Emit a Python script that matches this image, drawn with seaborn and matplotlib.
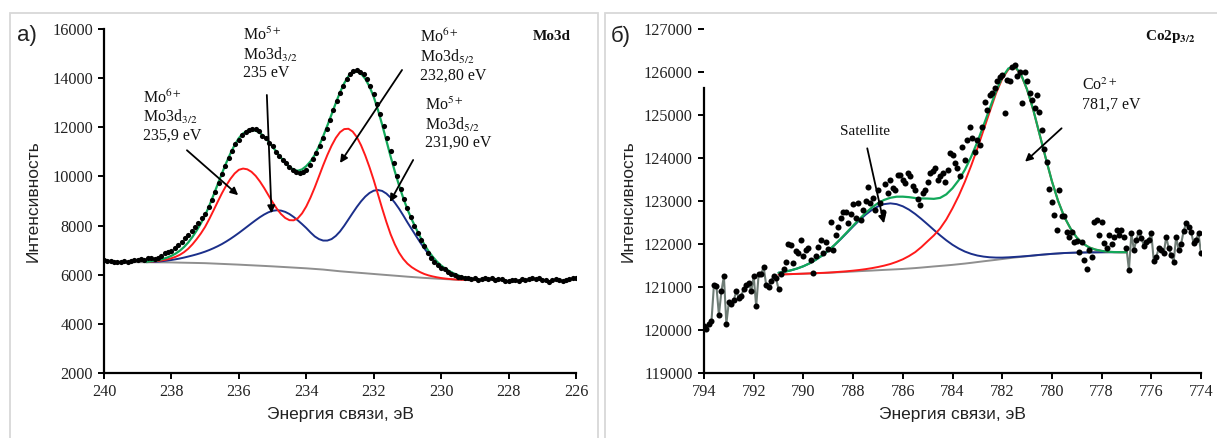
import numpy as np
import matplotlib
matplotlib.use("Agg")
import matplotlib.pyplot as plt
from matplotlib.patches import Rectangle
import seaborn as sns

# ---------------- Mo3d spectrum (panel a) ----------------
# measured counts, 240.0 -> 226.0 eV in 0.1 eV steps
mo_counts = [
    6600, 6560, 6540, 6520, 6500, 6510, 6540, 6520, 6560, 6580,
    6600, 6620, 6600, 6660, 6690, 6650, 6700, 6760, 6870, 6930,
    6980, 7080, 7200, 7330, 7480, 7620, 7780, 7950, 8100, 8290,
    8480, 8750, 9050, 9380, 9720, 10080, 10420, 10750, 11050, 11300,
    11500, 11680, 11800, 11880, 11950, 11930, 11860, 11650, 11560, 11350,
    11220, 11000, 10850, 10660, 10530, 10380, 10250, 10180, 10130, 10170,
    10280, 10450, 10700, 10950, 11250, 11550, 11950, 12300, 12700, 13050,
    13400, 13700, 13950, 14150, 14300, 14320, 14250, 14180, 13950, 13700,
    13350, 12950, 12550, 12050, 11550, 11050, 10550, 10000, 9500, 9100,
    8700, 8350, 8000, 7700, 7400, 7150, 6900, 6700, 6520, 6400,
    6280, 6220, 6100, 6020, 5980, 5900, 5920, 5850, 5880, 5820,
    5860, 5800, 5830, 5850, 5810, 5860, 5790, 5840, 5830, 5760,
    5740, 5800, 5770, 5760, 5820, 5800, 5840, 5870, 5830, 5850,
    5800, 5780, 5720, 5790, 5820, 5800, 5760, 5790, 5820, 5850,
    5880,
]
assert len(mo_counts) == 141
mo_energy = np.round(240.0 - 0.1 * np.arange(len(mo_counts)), 1)

# background, 240.0 -> 229.0 eV, 0.25 eV steps
mo_bg = [
    6520, 6518, 6515, 6512, 6510, 6508, 6505, 6503, 6500, 6492,
    6485, 6478, 6470, 6455, 6440, 6425, 6410, 6392, 6375, 6358,
    6340, 6320, 6300, 6280, 6260, 6235, 6210, 6175, 6140, 6112,
    6085, 6058, 6030, 6002, 5975, 5948, 5920, 5895, 5870, 5850,
    5830, 5812, 5795, 5788, 5780,
]
mo_bg_e = np.round(240.0 - 0.25 * np.arange(len(mo_bg)), 2)

# fitted components, 238.75 -> 229.0 eV, 0.125 eV steps
mo6_fit = [
    6520, 6532, 6545, 6564, 6590, 6624, 6670, 6729, 6810, 6919,
    7060, 7239, 7450, 7683, 7950, 8273, 8620, 8976, 9320, 9631,
    9900, 10120, 10270, 10320, 10290, 10187, 10020, 9794, 9530, 9239,
    8950, 8689, 8470, 8310, 8220, 8214, 8300, 8497, 8780, 9139,
    9550, 9998, 10450, 10872, 11250, 11566, 11800, 11926, 11940, 11826,
    11600, 11266, 10850, 10375, 9850, 9278, 8700, 8150, 7650, 7238,
    6900, 6644, 6450, 6308, 6200, 6106, 6030, 5973, 5930, 5894,
    5865, 5843, 5825, 5811, 5800, 5794, 5789, 5784, 5780,
]
mo5_fit = [
    6510, 6518, 6525, 6538, 6555, 6576, 6600, 6628, 6660, 6698,
    6740, 6783, 6830, 6882, 6940, 7006, 7080, 7161, 7250, 7351,
    7460, 7577, 7700, 7829, 7960, 8092, 8220, 8342, 8450, 8539,
    8600, 8623, 8610, 8557, 8470, 8351, 8210, 8060, 7900, 7721,
    7560, 7450, 7390, 7390, 7450, 7578, 7760, 7993, 8250, 8509,
    8760, 8987, 9180, 9327, 9420, 9447, 9410, 9303, 9140, 8933,
    8690, 8416, 8130, 7858, 7590, 7323, 7070, 6847, 6650, 6482,
    6340, 6226, 6130, 6044, 5970, 5909, 5860, 5830, 5800,
]
mo_env = [
    6522, 6544, 6565, 6598, 6642, 6698, 6770, 6861, 6978, 7129,
    7315, 7540, 7802, 8091, 8420, 8817, 9245, 9689, 10130, 10550,
    10935, 11279, 11560, 11748, 11858, 11895, 11865, 11770, 11622, 11429,
    11210, 10982, 10760, 10557, 10390, 10275, 10230, 10287, 10420, 10612,
    10875, 11226, 11630, 12070, 12525, 12986, 13420, 13793, 14078, 14237,
    14275, 14181, 13972, 13658, 13240, 12709, 12108, 11465, 10815, 10209,
    9642, 9126, 8660, 8258, 7895, 7547, 7230, 6960, 6730, 6536,
    6375, 6248, 6143, 6051, 5975, 5911, 5861, 5830, 5800,
]
assert len(mo6_fit) == len(mo5_fit) == len(mo_env) == 79
mo_fit_e = np.round(238.75 - 0.125 * np.arange(len(mo6_fit)), 3)

# ---------------- Co2p3/2 spectrum (panel b) ----------------
# measured counts, 794.0 -> 774.0 eV in 0.1 eV steps
co_counts = [
    120100, 120020, 120150, 120200, 121050, 121020, 120350, 120900, 121250, 120150,
    120650, 120600, 120700, 120900, 120750, 120800, 120950, 121050, 121100, 120900,
    121250, 120550, 121300, 121300, 121470, 121050, 121000, 121150, 121250, 121200,
    120950, 121300, 121420, 121590, 122010, 121980, 121550, 121830, 121800, 122090,
    121710, 121860, 121900, 121630, 121320, 121720, 121940, 122090, 121780, 122050,
    121880, 122520, 121860, 122210, 122400, 122600, 122750, 122750, 122480, 122700,
    122930, 122600, 122950, 122560, 122790, 123000, 123330, 122950, 123060, 122800,
    123260, 122950, 122750, 123400, 123180, 123480, 123300, 123260, 123600, 123610,
    123490, 123410, 123640, 123570, 123350, 123260, 123050, 122910, 123180, 123260,
    123450, 123640, 123700, 123760, 123490, 123570, 123650, 123450, 123720, 124110,
    124070, 123880, 123760, 123570, 124260, 123950, 124420, 124730, 124460, 124150,
    124420, 124300, 124730, 125310, 125120, 125470, 125500, 125620, 125780, 125890,
    125930, 125040, 125810, 125780, 126120, 126160, 125900, 126010, 125270, 126000,
    125780, 125500, 125350, 125160, 125470, 125080, 124650, 124200, 123910, 123290,
    122980, 122680, 122330, 123260, 122640, 122640, 122290, 122170, 122290, 122050,
    122060, 121820, 122050, 121630, 121430, 121860, 121700, 122520, 122560, 122210,
    122520, 122020, 121900, 122210, 122000, 122170, 122330, 122210, 122320, 122170,
    121900, 121400, 122250, 121860, 122100, 122290, 122150, 121950, 122050, 122100,
    122250, 121600, 121700, 121900, 121850, 121780, 122170, 121900, 121750, 121590,
    122170, 121860, 122000, 122300, 122480, 122400, 122290, 122020, 122100, 122250,
    121780,
]
assert len(co_counts) == 201
co_energy = np.round(794.0 - 0.1 * np.arange(len(co_counts)), 1)

# fitted curves, 791.0 -> 777.0 eV, 0.25 eV steps
co_bg = [
    121290, 121295, 121300, 121305, 121310, 121315, 121320, 121325, 121330, 121338,
    121345, 121352, 121360, 121368, 121375, 121382, 121390, 121398, 121405, 121412,
    121420, 121430, 121440, 121452, 121465, 121478, 121490, 121502, 121515, 121530,
    121545, 121562, 121580, 121598, 121615, 121632, 121650, 121668, 121685, 121700,
    121715, 121730, 121745, 121758, 121770, 121780, 121790, 121795, 121800, 121802,
    121805, 121806, 121808, 121809, 121810, 121810, 121810,
]
co_main = [
    121290, 121295, 121300, 121305, 121310, 121316, 121322, 121328, 121335, 121344,
    121355, 121366, 121380, 121396, 121415, 121438, 121465, 121497, 121535, 121585,
    121644, 121720, 121811, 121930, 122066, 122200, 122360, 122570, 122830, 123120,
    123450, 123820, 124220, 124650, 125080, 125500, 125840, 126060, 126120, 125950,
    125590, 125120, 124560, 124000, 123460, 123000, 122630, 122360, 122150, 122010,
    121920, 121870, 121840, 121820, 121812, 121810, 121810,
]
co_sat = [
    121331, 121356, 121388, 121430, 121483, 121550, 121632, 121729, 121842, 121972,
    122111, 122258, 122407, 122550, 122680, 122790, 122874, 122927, 122945, 122927,
    122877, 122799, 122698, 122581, 122456, 122328, 122202, 122086, 121982, 121895,
    121824, 121771, 121732, 121707, 121691, 121684, 121684, 121690, 121699, 121709,
    121720, 121733, 121747, 121759, 121771, 121780, 121790, 121795, 121800, 121802,
    121805, 121806, 121808, 121809, 121810, 121810, 121810,
]
co_env = [
    121331, 121356, 121388, 121430, 121483, 121551, 121634, 121732, 121847, 121978,
    122121, 122272, 122427, 122578, 122720, 122846, 122949, 123026, 123075, 123100,
    123101, 123089, 123069, 123059, 123057, 123050, 123072, 123154, 123297, 123485,
    123729, 124029, 124372, 124759, 125156, 125552, 125874, 126082, 126134, 125959,
    125595, 125123, 124562, 124001, 123461, 123000, 122630, 122360, 122150, 122010,
    121920, 121870, 121840, 121820, 121812, 121810, 121810,
]
co_fit_e = np.round(791.0 - 0.25 * np.arange(len(co_bg)), 2)

# ---------------- style ----------------
sns.set_theme(style="ticks")
plt.rcParams["font.family"] = ["Liberation Serif", "DejaVu Serif"]
plt.rcParams["mathtext.fontset"] = "stix"

C_RED = "#ff1a1a"
C_BLUE = "#1b2f8a"
C_GREEN = "#12a85a"
C_GREY = "#8f8f8f"
SANS = ["Liberation Sans", "DejaVu Sans"]

W, H = 1217, 438
fig = plt.figure(figsize=(W / 100, H / 100), dpi=100)
ax1 = fig.add_axes([104 / W, 65 / H, 472 / W, 344 / H])
ax2 = fig.add_axes([704 / W, 65 / H, 497 / W, 344 / H])

# light frames around the two panels
for x0, x1 in [(10, 598), (605, W + 20)]:
    fig.add_artist(Rectangle((x0 / W, -0.1), (x1 - x0) / W, 1.1 - 13 / H,
                             transform=fig.transFigure, fill=False,
                             ec="#d8d8d8", lw=1.3))


def curve(ax, x, y, color, lw=1.4, z=2):
    sns.lineplot(x=x, y=y, ax=ax, color=color, lw=lw, estimator=None,
                 sort=False, zorder=z)


def arrow(ax, tail, head):
    ax.annotate("", xy=head, xytext=tail,
                arrowprops=dict(arrowstyle="-|>", color="black", lw=1.3,
                                mutation_scale=11, shrinkA=0, shrinkB=0),
                zorder=6)


def label_lines(ax, x, ys, lines, size=11.5, weight="normal", ha="left"):
    for y, s in zip(ys, lines):
        ax.text(x, y, s, fontsize=size, fontweight=weight, ha=ha,
                va="baseline", color="#111111", zorder=7)


def style_axes(ax):
    sns.despine(ax=ax)
    for side in ("left", "bottom"):
        ax.spines[side].set_color("black")
        ax.spines[side].set_linewidth(1.6)
    ax.tick_params(direction="out", length=4, width=1.4, color="black",
                   labelsize=11.7, labelcolor="#222222", pad=4)
    ax.set_facecolor("white")


# ---------------- panel a ----------------
curve(ax1, mo_bg_e, mo_bg, C_GREY, lw=1.4)
curve(ax1, mo_fit_e, mo5_fit, C_BLUE)
curve(ax1, mo_fit_e, mo6_fit, C_RED)
curve(ax1, mo_fit_e, mo_env, C_GREEN, lw=1.6, z=3)
sns.scatterplot(x=mo_energy, y=mo_counts, ax=ax1, color="black", s=14,
                linewidth=0, zorder=4)

ax1.set_xlim(240, 226)
ax1.set_ylim(2000, 16000)
ax1.set_xticks(np.arange(240, 225, -2))
ax1.set_yticks(np.arange(2000, 16001, 2000))
style_axes(ax1)
ax1.set_xlabel("Энергия связи, эВ", family=SANS, fontsize=12.5, labelpad=5,
               color="#222222")
ax1.set_ylabel("Интенсивность", family=SANS, fontsize=12.5, labelpad=8,
               color="#222222")

label_lines(ax1, 238.84, [12989, 12216, 11483],
            ["Mo$^{6+}$", "Mo3d$_{3/2}$", "235,9 eV"])
label_lines(ax1, 235.88, [15553, 14739, 14047],
            ["Mo$^{5+}$", "Mo3d$_{3/2}$", "235 eV"])
label_lines(ax1, 230.63, [15472, 14658, 13925],
            ["Mo$^{6+}$", "Mo3d$_{5/2}$", "232,80 eV"])
label_lines(ax1, 230.48, [12704, 11890, 11198],
            ["Mo$^{5+}$", "Mo3d$_{5/2}$", "231,90 eV"])
label_lines(ax1, 226.71, [15553], ["Mo3d"], size=11, weight="bold",
            ha="center")
arrow(ax1, (237.54, 11065), (236.02, 9236))
arrow(ax1, (235.17, 13315), (235.03, 8500))
arrow(ax1, (231.16, 14332), (233.0, 10547))
arrow(ax1, (230.83, 10669), (231.52, 8960))

# ---------------- panel b ----------------
edge_l = co_energy >= 791.0
edge_r = co_energy <= 777.0
for m in (edge_l, edge_r):
    curve(ax2, co_energy[m], np.array(co_counts)[m], "#6f7d76", lw=1.5)
curve(ax2, co_fit_e, co_bg, C_GREY, lw=1.4)
curve(ax2, co_fit_e, co_sat, C_BLUE)
curve(ax2, co_fit_e, co_main, C_RED)
curve(ax2, co_fit_e, co_env, C_GREEN, lw=1.6, z=3)
sns.scatterplot(x=co_energy, y=co_counts, ax=ax2, color="black", s=19,
                linewidth=0, zorder=4)

ax2.set_xlim(794, 774)
ax2.set_ylim(119000, 127000)
ax2.set_xticks(np.arange(794, 773, -2))
ax2.set_yticks(np.arange(119000, 127001, 1000))
style_axes(ax2)
ax2.spines["left"].set_bounds(119000, 125630)
ax2.set_xlabel("Энергия связи, эВ", family=SANS, fontsize=12.5, labelpad=5,
               color="#222222")
ax2.set_ylabel("Интенсивность", family=SANS, fontsize=12.5, labelpad=6,
               color="#222222")

label_lines(ax2, 787.52, [124535], ["Satellite"], size=11, ha="center")
label_lines(ax2, 778.79, [125581, 125156], ["Co$^{2+}$", "781,7 eV"])
label_lines(ax2, 775.25, [126744], ["Co2p$_{\\mathbf{3/2}}$"], size=11,
            weight="bold", ha="center")
arrow(ax2, (787.43, 124225), (786.76, 122481))
arrow(ax2, (779.61, 124691), (781.08, 123914))

# panel letters
fig.text(17 / W, 1 - 36 / H, "а)", family=SANS, fontsize=16, va="center",
         color="#222222")
fig.text(611 / W, 1 - 36 / H, "б)", family=SANS, fontsize=16, va="center",
         color="#222222")

fig.savefig("out.png", dpi=100, facecolor="white")
